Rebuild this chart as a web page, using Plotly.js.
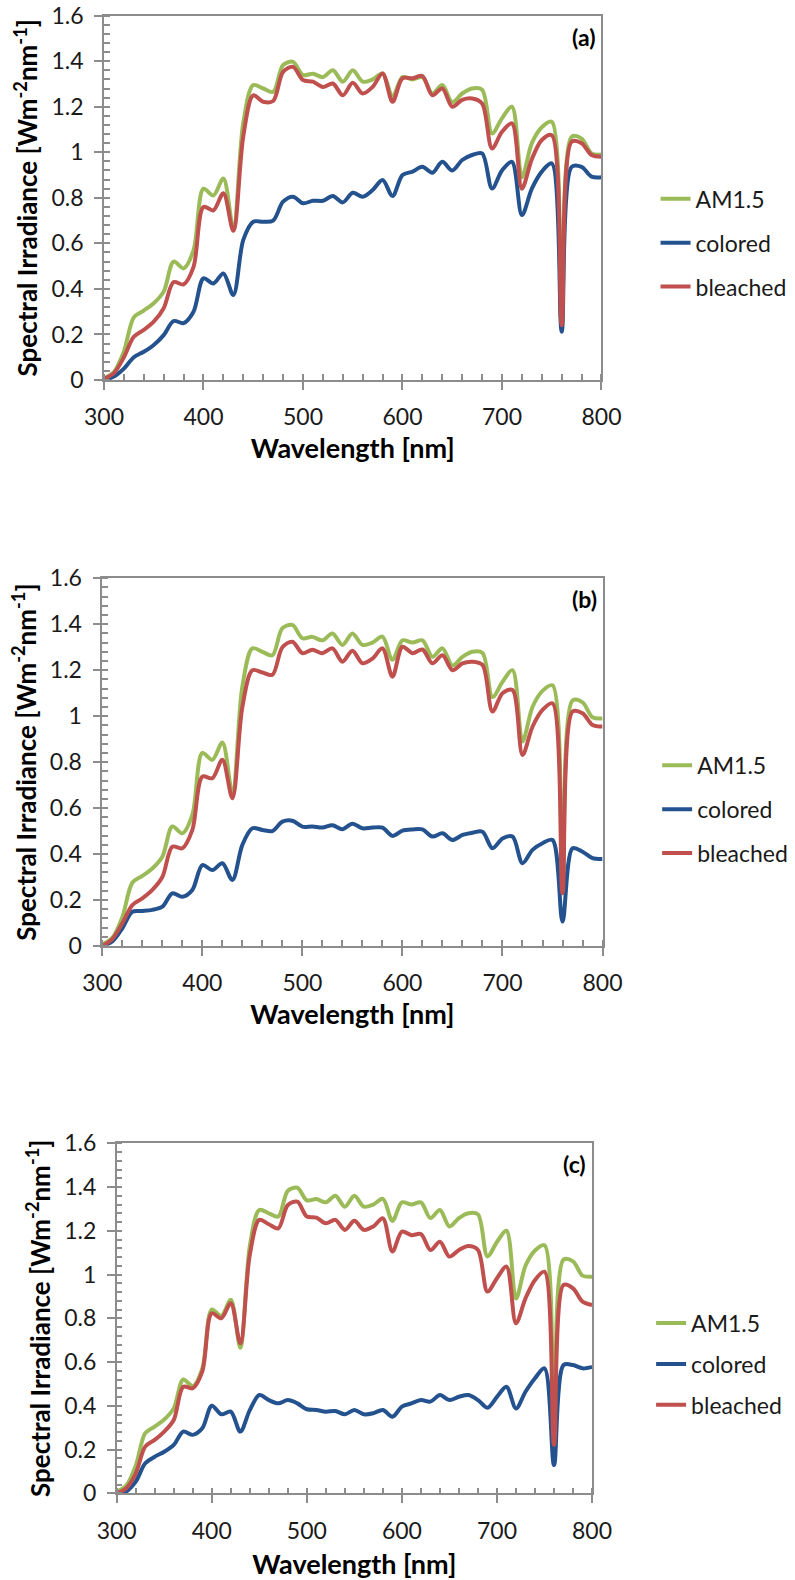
<!DOCTYPE html>
<html>
<head>
<meta charset="utf-8">
<script src="https://cdn.plot.ly/plotly-3.0.1.min.js"></script>
<style>
  html, body { margin: 0; padding: 0; background: #fff; }
  #chart { width: 795px; height: 1580px; }
</style>
</head>
<body>
<div id="chart"></div>
<script>
// Wavelength grid [nm]
const wavelength = [300,310,320,330,340,350,360,370,380,390,
                    400,410,420,430,440,450,460,470,480,490,
                    500,510,520,530,540,550,560,570,580,590,
                    600,610,620,630,640,650,660,670,680,690,
                    700,710,720,730,740,750,760,770,780,790,800];

// AM1.5 reference spectrum (same in all panels)
const am15 = [0.007,0.035,0.125,0.275,0.305,0.337,0.388,0.52,0.49,0.57,
              0.84,0.81,0.885,0.665,1.13,1.295,1.28,1.265,1.383,1.397,
              1.339,1.345,1.33,1.36,1.31,1.36,1.31,1.32,1.346,1.245,
              1.33,1.32,1.33,1.258,1.295,1.22,1.258,1.28,1.275,1.083,
              1.149,1.2,0.89,1.04,1.11,1.134,0.235,1.068,1.06,0.995,0.99];

// Panel (a)
const coloredA = [0.0,0.015,0.05,0.10,0.124,0.154,0.197,0.259,0.25,0.30,
                  0.446,0.424,0.468,0.373,0.615,0.695,0.695,0.70,0.783,0.805,
                  0.776,0.787,0.787,0.808,0.78,0.822,0.805,0.834,0.878,0.808,
                  0.90,0.915,0.936,0.91,0.958,0.92,0.966,0.988,0.995,0.841,
                  0.92,0.958,0.724,0.84,0.915,0.951,0.212,0.936,0.936,0.893,0.89];
const bleachedA = [0.005,0.03,0.10,0.19,0.22,0.256,0.315,0.43,0.42,0.497,
                   0.76,0.745,0.82,0.655,1.07,1.25,1.222,1.225,1.353,1.375,
                   1.317,1.31,1.287,1.302,1.25,1.305,1.258,1.287,1.346,1.222,
                   1.325,1.325,1.335,1.25,1.28,1.20,1.23,1.236,1.214,1.017,
                   1.09,1.127,0.84,0.97,1.054,1.075,0.24,1.046,1.04,0.988,0.98];

// Panel (b)
const coloredB = [0.0,0.02,0.077,0.149,0.152,0.157,0.171,0.229,0.214,0.244,
                  0.352,0.33,0.36,0.287,0.44,0.512,0.505,0.50,0.541,0.545,
                  0.519,0.52,0.515,0.525,0.508,0.532,0.512,0.515,0.515,0.479,
                  0.502,0.507,0.507,0.476,0.49,0.461,0.483,0.493,0.497,0.425,
                  0.468,0.476,0.36,0.418,0.447,0.461,0.106,0.425,0.41,0.382,0.378];
const bleachedB = [0.0,0.03,0.099,0.178,0.207,0.244,0.30,0.432,0.425,0.505,
                   0.737,0.73,0.81,0.643,1.04,1.20,1.19,1.18,1.30,1.324,
                   1.274,1.289,1.274,1.295,1.237,1.285,1.23,1.25,1.295,1.172,
                   1.302,1.274,1.29,1.23,1.265,1.20,1.23,1.237,1.223,1.02,
                   1.10,1.114,0.831,0.954,1.027,1.056,0.229,1.02,1.013,0.962,0.955];

// Panel (c)
const coloredC = [0.0,0.008,0.053,0.137,0.167,0.19,0.221,0.282,0.267,0.297,
                  0.40,0.361,0.373,0.282,0.38,0.449,0.426,0.411,0.426,0.411,
                  0.384,0.381,0.373,0.376,0.361,0.381,0.361,0.366,0.381,0.35,
                  0.396,0.411,0.426,0.419,0.449,0.426,0.441,0.449,0.426,0.391,
                  0.441,0.487,0.388,0.464,0.526,0.571,0.129,0.586,0.586,0.571,0.578];
const bleachedC = [0.0,0.023,0.09,0.213,0.244,0.282,0.335,0.487,0.48,0.556,
                   0.823,0.80,0.869,0.686,1.09,1.25,1.23,1.211,1.318,1.333,
                   1.265,1.26,1.234,1.25,1.204,1.246,1.204,1.22,1.257,1.105,
                   1.196,1.18,1.185,1.112,1.15,1.082,1.112,1.13,1.112,0.922,
                   0.983,1.036,0.777,0.891,0.975,1.013,0.221,0.952,0.937,0.876,0.861];

const seriesNames = ['AM1.5', 'colored', 'bleached'];
const panelLabels = ['(a)', '(b)', '(c)'];
const xTitle = 'Wavelength [nm]';
const yTitle = 'Spectral Irradiance [Wm<sup>-2</sup>nm<sup>-1</sup>]';

const colors = ['#9BBB59', '#24528E', '#C0504D'];
const FONT = 'Lato, "Liberation Sans", sans-serif';

const panels = [
  {series: [am15, coloredA, bleachedA]},
  {series: [am15, coloredB, bleachedB]},
  {series: [am15, coloredC, bleachedC]}
];

// layout geometry (paper fractions)
const xDomains = [[0.1308, 0.7566], [0.1287, 0.7579], [0.1468, 0.7447]];
const yDomains = [[0.7595, 0.9901], [0.4013, 0.6340], [0.0549, 0.2764]];
const legendPos = [{x: 0.8246, y: 0.8878, gap: 11}, {x: 0.8266, y: 0.5292, gap: 11}, {x: 0.819, y: 0.1762, gap: 8}];
const xTitleStandoff = [10, 10, 14];

const traces = [];
const layout = {
  width: 795, height: 1580,
  margin: {l: 0, r: 0, t: 0, b: 0},
  paper_bgcolor: '#ffffff', plot_bgcolor: '#ffffff',
  font: {family: FONT, size: 23, color: '#1a1a1a'},
  annotations: []
};

panels.forEach((p, i) => {
  const n = i === 0 ? '' : String(i + 1);
  const legendKey = 'legend' + n;
  p.series.forEach((vals, k) => {
    traces.push({
      type: 'scatter', mode: 'lines',
      x: wavelength, y: vals,
      name: seriesNames[k],
      xaxis: 'x' + n, yaxis: 'y' + n,
      legend: legendKey,
      legendgroup: 'g' + i + k,
      line: {color: colors[k], width: 4, shape: 'spline', smoothing: 0.9},
      hoverinfo: 'x+y+name'
    });
  });
  const axisCommon = {
    showline: true, linecolor: '#8c8c8c', linewidth: 1.5, mirror: true,
    showgrid: false, zeroline: false,
    ticks: 'outside', ticklen: 8, tickwidth: 1.5, tickcolor: '#8c8c8c',
    tickfont: {family: FONT, size: 23, color: '#1a1a1a'}
  };
  layout['xaxis' + n] = Object.assign({}, axisCommon, {
    domain: xDomains[i], anchor: 'y' + n,
    range: [300, 800], dtick: 100, tick0: 300,
    ticklabelstandoff: 8,
    minor: {dtick: 20, ticks: 'inside', ticklen: 6, tickwidth: 1.5, tickcolor: '#8c8c8c', showgrid: false},
    title: {text: '<b>' + xTitle + '</b>', font: {family: FONT, size: 27, color: '#000'}, standoff: xTitleStandoff[i]}
  });
  layout['yaxis' + n] = Object.assign({}, axisCommon, {
    domain: yDomains[i], anchor: 'x' + n,
    range: [0, 1.6], dtick: 0.2, tick0: 0,
    ticklabelstandoff: 6,
    minor: {dtick: 0.04, ticks: 'inside', ticklen: 6, tickwidth: 1.5, tickcolor: '#8c8c8c', showgrid: false},
    title: {text: '<b>' + yTitle + '</b>', font: {family: FONT, size: 26, color: '#000'}, standoff: 6}
  });
  layout[legendKey] = {
    x: legendPos[i].x, y: legendPos[i].y, xanchor: 'left', yanchor: 'top',
    bgcolor: 'rgba(0,0,0,0)', borderwidth: 0,
    font: {family: FONT, size: 23, color: '#1a1a1a'},
    tracegroupgap: legendPos[i].gap, traceorder: 'grouped', itemwidth: 30
  };
  layout.annotations.push({
    text: '<b>' + panelLabels[i] + '</b>',
    xref: 'x' + n + ' domain', yref: 'y' + n + ' domain',
    x: 1, y: 1, xanchor: 'right', yanchor: 'top', xshift: -4, yshift: -5,
    showarrow: false, font: {family: FONT, size: 23, color: '#000'}
  });
});

Plotly.newPlot('chart', traces, layout, {displayModeBar: false, staticPlot: false});
</script>
</body>
</html>
